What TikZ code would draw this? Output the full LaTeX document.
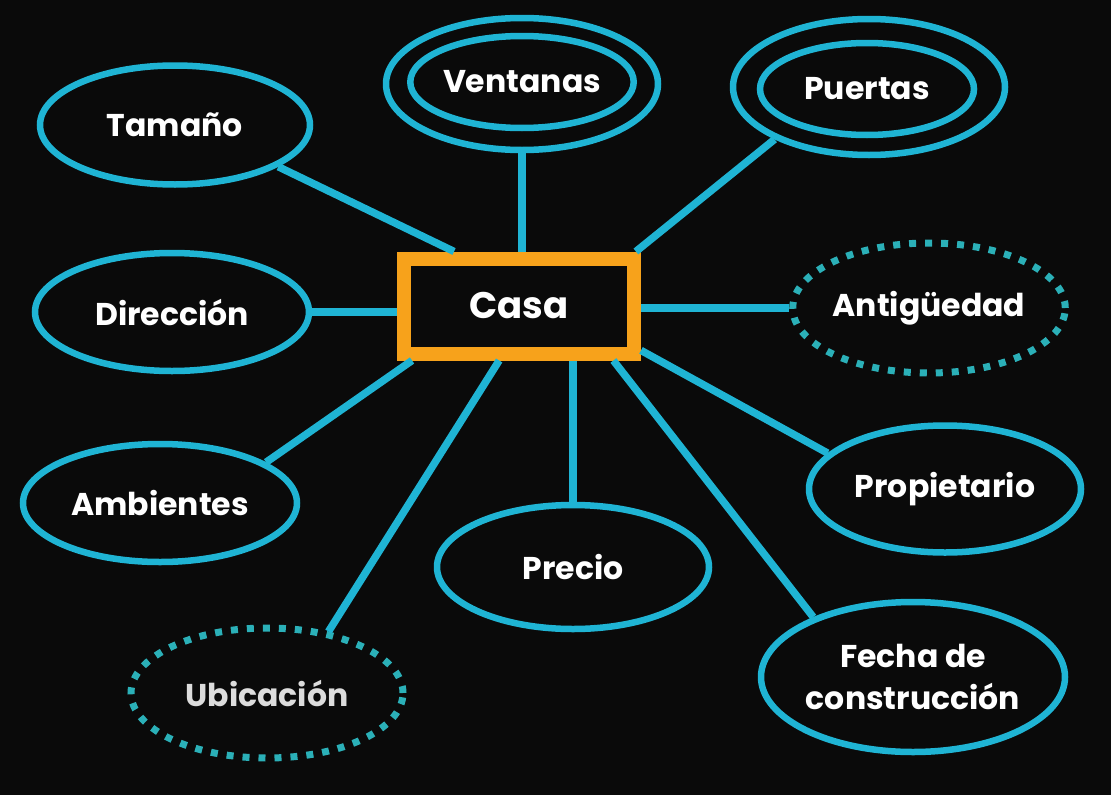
\documentclass[tikz,border=0pt]{standalone}
\usepackage{fontspec}
\setmainfont{Poppins}
\usetikzlibrary{shapes.geometric}
\definecolor{bg}{HTML}{0A0A0A}
\definecolor{cy}{HTML}{1FB4D4}
\definecolor{dotc}{HTML}{2BB0B8}
\definecolor{org}{HTML}{F7A21B}
\definecolor{lgrey}{HTML}{DCDCDC}
\tikzset{
  attr/.style={ellipse, draw=cy, line width=6.5pt, fill=bg, inner sep=0pt, text=white,
    font=\fontsize{31.5}{42}\selectfont\bfseries, align=center},
  dotattr/.style={attr, draw=dotc, line width=7pt, dash pattern=on 7pt off 9pt},
  conn/.style={cy, line width=7.5pt},
  mainbox/.style={rectangle, draw=org, line width=14pt, fill=bg, text=white,
    minimum width=230pt, minimum height=95pt, inner sep=0pt,
    font=\fontsize{37}{44}\selectfont\bfseries},
}
\begin{document}
\begin{tikzpicture}[x=1pt,y=-1pt]
\useasboundingbox (0,0) rectangle (1111,795);
\fill[bg] (0,0) rectangle (1111,795);
% nodes
\node[attr, minimum width=270pt, minimum height=119pt] (tam) at (175,125) {Tama\~no};
\node[attr, minimum width=272pt, minimum height=132pt] (ventO) at (522,84) {};
\node[attr, minimum width=212pt, minimum height=92pt] (vent) at (522,82) {Ventanas};
\node[attr, minimum width=272pt, minimum height=136pt] (puerO) at (869,87) {};
\node[attr, minimum width=214pt, minimum height=92pt] (puer) at (867,89) {Puertas};
\node[attr, minimum width=274pt, minimum height=118pt] (dir) at (172,312) {Direcci\'on};
\node[dotattr, minimum width=272pt, minimum height=130pt] (ant) at (929,308) {Antig\"uedad};
\node[attr, minimum width=274pt, minimum height=118pt] (amb) at (160,503) {Ambientes};
\node[attr, minimum width=272pt, minimum height=124pt] (pre) at (573,567) {Precio};
\node[attr, minimum width=272pt, minimum height=127pt] (prop) at (945,489) {Propietario};
\node[dotattr, minimum width=272pt, minimum height=130pt, text=lgrey] (ubi) at (267,693) {Ubicaci\'on};
\node[attr, minimum width=304pt, minimum height=150pt] (fecha) at (913,677) {Fecha de\\construcci\'on};
\node[mainbox] (casa) at (519,306) {Casa};
% connectors
\draw[conn] (tam.-22) -- (casa.140);
\draw[conn] (ventO.south) -- (ventO.south |- casa.north);
\draw[conn] (puerO.209) -- (casa.25);
\draw[conn] (dir.east) -- (dir.east -| casa.west);
\draw[conn] (ant.west) -- (ant.west -| casa.east);
\draw[conn] (amb.21) -- (casa.207);
\draw[conn] (ubi.45) -- (casa.250);
\draw[conn] (pre.north) -- (pre.north |- casa.south);
\draw[conn] (prop.163) -- (casa.-20);
\draw[conn] (fecha.149) -- (casa.-30);
\end{tikzpicture}
\end{document}
